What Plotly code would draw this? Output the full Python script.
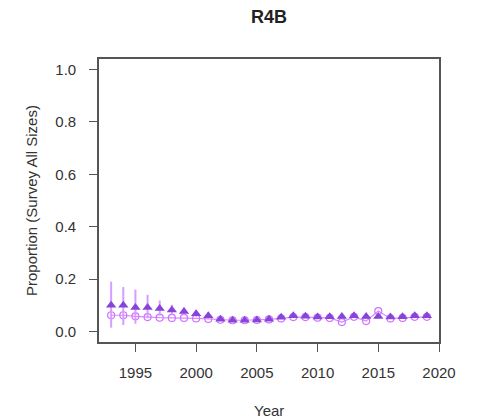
import plotly.graph_objects as go

# Survey proportion by year for area R4B
years = list(range(1993, 2020))

# observed proportion (filled triangles) with confidence limits
observed = [0.100, 0.100, 0.092, 0.092, 0.088, 0.082, 0.076, 0.068, 0.060,
            0.047, 0.043, 0.043, 0.044, 0.047, 0.054, 0.060, 0.058, 0.055,
            0.056, 0.057, 0.060, 0.057, 0.057, 0.055, 0.056, 0.060, 0.060]
obs_lower = [0.015, 0.025, 0.030, 0.050, 0.060, 0.065, 0.062, 0.056, 0.050,
             0.040, 0.037, 0.037, 0.038, 0.041, 0.047, 0.053, 0.051, 0.048,
             0.049, 0.050, 0.053, 0.050, 0.050, 0.048, 0.049, 0.053, 0.053]
obs_upper = [0.190, 0.170, 0.160, 0.140, 0.118, 0.102, 0.092, 0.082, 0.072,
             0.055, 0.050, 0.050, 0.051, 0.054, 0.062, 0.068, 0.066, 0.063,
             0.064, 0.065, 0.068, 0.065, 0.065, 0.063, 0.064, 0.068, 0.068]

# model-predicted proportion (open circles joined by a line)
predicted = [0.062, 0.062, 0.058, 0.055, 0.053, 0.052, 0.052, 0.050, 0.048,
             0.045, 0.043, 0.043, 0.044, 0.046, 0.050, 0.055, 0.055, 0.053,
             0.052, 0.036, 0.056, 0.040, 0.078, 0.050, 0.052, 0.056, 0.056]

x_ticks = [1995, 2000, 2005, 2010, 2015, 2020]
y_ticks = [0.0, 0.2, 0.4, 0.6, 0.8, 1.0]

FONT = "Liberation Sans, Arial, sans-serif"

fig = go.Figure()

fig.add_trace(go.Scatter(
    x=years, y=predicted, mode="lines+markers",
    line=dict(color="#d68cff", width=1.2),
    marker=dict(symbol="circle-open", size=7, color="#d070ff",
                line=dict(width=1.2)),
    showlegend=False,
))

fig.add_trace(go.Scatter(
    x=years, y=observed, mode="markers",
    marker=dict(symbol="triangle-up", size=9, color="#8644d8"),
    error_y=dict(
        type="data", symmetric=False,
        array=[u - o for u, o in zip(obs_upper, observed)],
        arrayminus=[o - l for o, l in zip(observed, obs_lower)],
        color="#d79cff", thickness=2, width=0,
    ),
    showlegend=False,
))

axis_common = dict(
    showgrid=False, zeroline=False,
    showline=True, mirror=True, linecolor="#555555", linewidth=1.6,
    ticks="outside", ticklen=8, tickwidth=1.3, tickcolor="#555555",
    tickfont=dict(family=FONT, size=15, color="#333333"),
)

fig.update_xaxes(range=[1992, 2020], tickvals=x_ticks,
                 ticklabelstandoff=8, **axis_common)
fig.update_yaxes(range=[-0.04, 1.04], tickvals=y_ticks, tickformat=".1f",
                 ticklabelstandoff=10, **axis_common)

fig.update_layout(
    width=477, height=420,
    margin=dict(l=99, r=38, t=59, b=78),
    paper_bgcolor="white", plot_bgcolor="white",
    annotations=[
        dict(text="<b>R4B</b>", xref="paper", yref="paper", x=0.5, y=1,
             yshift=30, yanchor="bottom", showarrow=False,
             font=dict(family=FONT, size=18, color="#222222")),
        dict(text="Year", xref="paper", yref="paper", x=0.5, y=0,
             yshift=-58, yanchor="top", showarrow=False,
             font=dict(family=FONT, size=15, color="#333333")),
        dict(text="Proportion (Survey All Sizes)", xref="paper", yref="paper",
             x=0, xshift=-78, y=0.5, textangle=-90, showarrow=False,
             font=dict(family=FONT, size=15, color="#333333")),
    ],
)

fig.write_html("out.html")
